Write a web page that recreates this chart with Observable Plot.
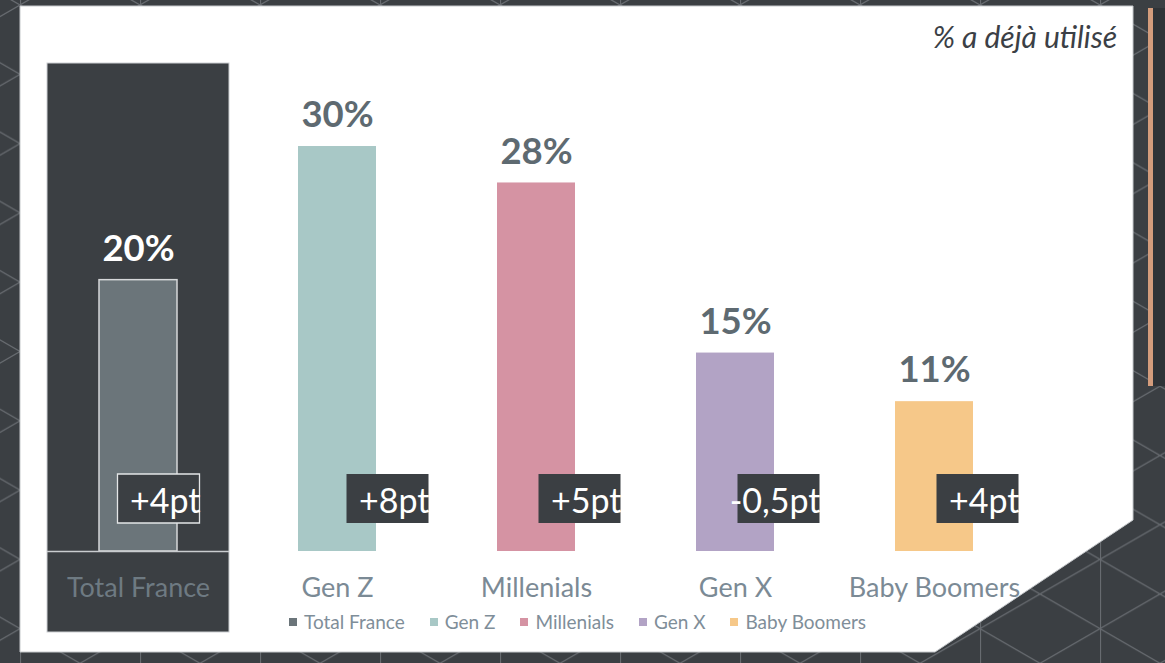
<!DOCTYPE html>
<html><head><meta charset="utf-8">
<script src="https://cdn.jsdelivr.net/npm/d3@7"></script>
<script src="https://cdn.jsdelivr.net/npm/@observablehq/plot@0.6"></script>
<style>
html,body{margin:0;padding:0;}
body{width:1165px;height:663px;position:relative;overflow:hidden;background:#3b3f43;font-family:Lato,sans-serif;}
#deco{position:absolute;left:0;top:0;}
#chart{position:absolute;left:0;top:0;}
#title{position:absolute;right:48px;top:21px;font:italic 30px/30px Lato;color:#3b3f46;white-space:nowrap;}
#legend{position:absolute;left:289px;top:612px;display:flex;gap:25px;font:19px/20px Lato;color:#7f8e99;white-space:nowrap;}
.item{display:flex;align-items:center;}
.sw{width:8px;height:8px;margin-right:7px;}
#strip{position:absolute;left:1148px;top:8px;width:17px;height:378px;background:linear-gradient(90deg,#d39c7c 0 5px,#2f3337 5px 100%);}
</style></head><body>
<svg id="deco" width="1165" height="663">
  <defs>
    <pattern id="tri" x="20" y="5" width="120" height="138.6" patternUnits="userSpaceOnUse">
      <path d="M0.5,0V138.6M0,0L120,69.3M0,69.3L120,0M0,69.3L120,138.6M0,138.6L120,69.3" stroke="#676b70" stroke-width="1.2" fill="none"/>
    </pattern>
  </defs>
  <rect width="1165" height="663" fill="#3b3f43"/>
  <rect width="1165" height="663" fill="url(#tri)"/>
  <polygon points="20,6 1133,6 1133,520 935,652 20,652" fill="#ffffff" stroke="#c6c9cc"/>
</svg>
<div id="strip"></div>
<div id="chart"></div>
<div id="title"></div>
<div id="legend"></div>
<script>
const categories = ["Total France", "Gen Z", "Millenials", "Gen X", "Baby Boomers"];
const values = [20.1, 30, 27.3, 14.7, 11.1];
const valueLabels = ["20%", "30%", "28%", "15%", "11%"];
const deltaLabels = ["+4pt", "+8pt", "+5pt", "-0,5pt", "+4pt"];
const colors = ["#6b757a", "#a8c8c6", "#d593a3", "#b2a3c5", "#f6c889"];
const titleText = "% a déjà utilisé";

const rows = categories.map((c, i) => ({cat: c, value: values[i], label: valueLabels[i], delta: deltaLabels[i], color: colors[i]}));
const dark = "#3b3f43";
const isTF = d => d.cat === "Total France";
const tf = rows.filter(isTF);
const boxShift = c => c === "Total France" ? 20 : c === "Gen Z" ? 50 : 43;
const boxSymbol = {draw(ctx) { ctx.rect(-41, -24.5, 82, 49); }};

const deltaMarks = rows.map(d => [
  Plot.dot([d], {x: "cat", y: 0, dx: boxShift(d.cat), dy: -53, symbol: boxSymbol, fill: dark,
    stroke: isTF(d) ? "#e4e6e7" : "none", strokeWidth: 1.3}),
  Plot.text([d], {x: "cat", y: 0, text: "delta", dx: boxShift(d.cat) + 42, dy: -49, textAnchor: "end",
    lineAnchor: "middle", fill: "#ffffff", fontSize: 34, fontFamily: "Lato"})
]).flat();

const chart = Plot.plot({
  width: 1165, height: 663,
  marginLeft: 39, marginRight: 131, marginTop: 63, marginBottom: 112,
  x: {domain: categories, paddingInner: 0.608, paddingOuter: 0.304, axis: null},
  y: {domain: [0, 36.15], axis: null},
  color: {type: "identity"},
  style: {background: "transparent", fontFamily: "Lato"},
  marks: [
    Plot.cell(tf, {x: "cat", fill: dark, stroke: "#cdd0d3", insetLeft: -52, insetRight: -52, insetBottom: -81}),
    Plot.barY(rows, {x: "cat", y: "value", fill: "color"}),
    Plot.barY(tf, {x: "cat", y: "value", fill: "none", stroke: "#d6d8da", strokeWidth: 1.5}),
    Plot.tickY(tf, {x: "cat", y: 0, stroke: "#c9cccf", strokeWidth: 1.5, insetLeft: -52, insetRight: -52}),
    Plot.text(rows, {x: "cat", y: "value", text: "label", dy: -31, lineAnchor: "middle",
      fill: d => isTF(d) ? "#ffffff" : "#5e6a71", fontSize: 36.5, fontWeight: "bold", fontFamily: "Lato"}),
    Plot.text(rows, {x: "cat", y: 0, text: "cat", dy: 37, lineAnchor: "middle",
      fill: d => isTF(d) ? "#6e7a82" : "#7b8a95", fontSize: 27, fontFamily: "Lato"}),
    ...deltaMarks
  ]
});
document.getElementById("chart").appendChild(chart);
document.getElementById("title").textContent = titleText;

const legend = document.getElementById("legend");
categories.forEach((c, i) => {
  const it = document.createElement("div"); it.className = "item";
  const sw = document.createElement("span"); sw.className = "sw"; sw.style.background = colors[i];
  const tx = document.createElement("span"); tx.textContent = c;
  it.appendChild(sw); it.appendChild(tx); legend.appendChild(it);
});
</script>
</body></html>
